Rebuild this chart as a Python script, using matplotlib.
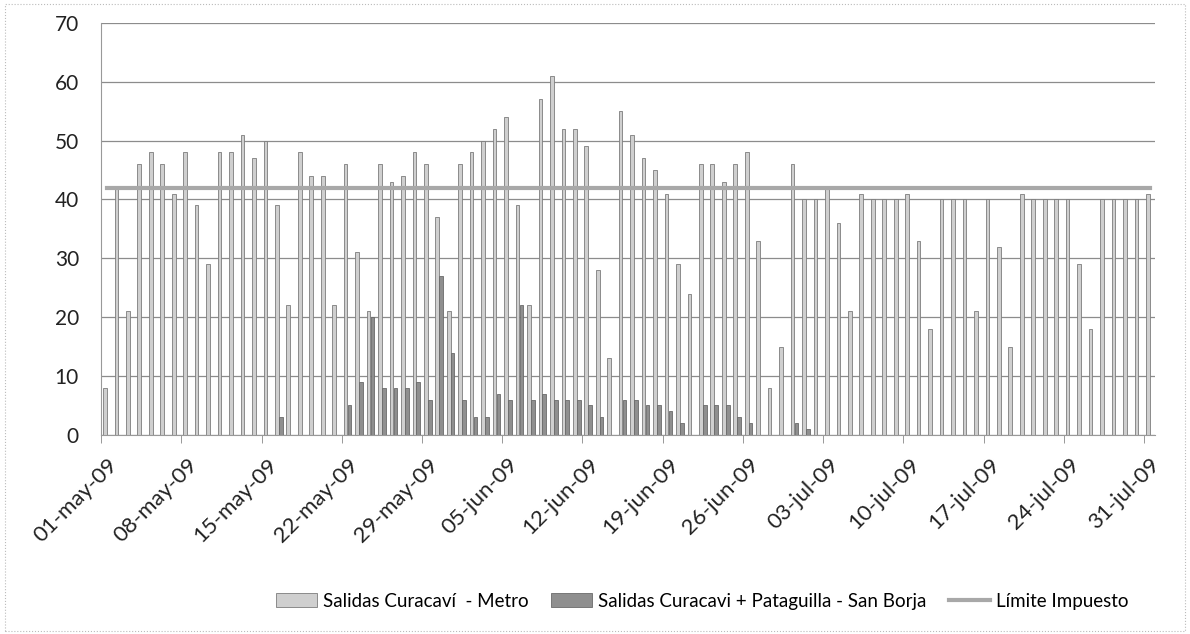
import numpy as np
import matplotlib
matplotlib.use("Agg")
import matplotlib.pyplot as plt
from matplotlib.patches import Patch, Rectangle
from matplotlib.lines import Line2D

plt.rcParams["font.family"] = ["Lato", "DejaVu Sans"]

# daily values, 01-may-09 .. 31-jul-09
metro = [
    8, 42, 21, 46, 48, 46, 41, 48, 39, 29, 48, 48, 51, 47, 50, 39, 22, 48, 44, 44,
    22, 46, 31, 21, 46, 43, 44, 48, 46, 37, 21, 46, 48, 50, 52, 54, 39, 22, 57, 61,
    52, 52, 49, 28, 13, 55, 51, 47, 45, 41, 29, 24, 46, 46, 43, 46, 48, 33, 8, 15,
    46, 40, 40, 42, 36, 21, 41, 40, 40, 40, 41, 33, 18, 40, 40, 40, 21, 40, 32, 15,
    41, 40, 40, 40, 40, 29, 18, 40, 40, 40, 40, 41,
]
san_borja = [
    0, 0, 0, 0, 0, 0, 0, 0, 0, 0, 0, 0, 0, 0, 0, 3, 0, 0, 0, 0,
    0, 5, 9, 20, 8, 8, 8, 9, 6, 27, 14, 6, 3, 3, 7, 6, 22, 6, 7, 6,
    6, 6, 5, 3, 0, 6, 6, 5, 5, 4, 2, 0, 5, 5, 5, 3, 2, 0, 0, 0,
    2, 1, 0, 0, 0, 0, 0, 0, 0, 0, 0, 0, 0, 0, 0, 0, 0, 0, 0, 0,
    0, 0, 0, 0, 0, 0, 0, 0, 0, 0, 0, 0,
]
limite = 42

tick_labels = ["01-may-09", "08-may-09", "15-may-09", "22-may-09", "29-may-09",
               "05-jun-09", "12-jun-09", "19-jun-09", "26-jun-09", "03-jul-09",
               "10-jul-09", "17-jul-09", "24-jul-09", "31-jul-09"]

series_names = ["Salidas Curacaví  - Metro",
                "Salidas Curacavi + Pataguilla - San Borja",
                "Límite Impuesto"]

n = len(metro)
x = np.arange(n)

fig = plt.figure(figsize=(11.9, 6.34), dpi=100)
ax = fig.add_axes([0.085, 0.314, 0.886, 0.65])

# outer chart border
fig.patches.append(Rectangle((0.004, 0.004), 0.992, 0.99, transform=fig.transFigure,
                             fill=False, edgecolor="#bbbbbb", lw=0.8, ls=":"))

ax.set_axisbelow(True)
ax.yaxis.grid(True, color="#8c8c8c", lw=0.9)

w = 0.32
ax.bar(x - 0.17, metro, width=w, color="#cfcfcf", edgecolor="#7c7c7c", lw=0.6)
ax.bar(x + 0.17, san_borja, width=w, color="#8f8f8f", edgecolor="#6a6a6a", lw=0.6)
ax.plot(x, np.full(n, limite), color="#a8a8a8", lw=3)

ax.set_xlim(-0.5, n - 0.5)
ax.set_ylim(0, 70)
ax.set_yticks(range(0, 71, 10))
ax.tick_params(axis="y", length=0, labelsize=15, pad=16, colors="#222222")

ax.set_xticks(x[::7])
ax.set_xticklabels(tick_labels, rotation=45, ha="right", rotation_mode="anchor",
                   fontsize=16, color="#222222")
ax.tick_params(axis="x", length=0, pad=14)
ax.set_xticks(np.arange(-0.5, n, 7), minor=True)
ax.tick_params(axis="x", which="minor", length=6, color="#888888")

for s in ["top", "right"]:
    ax.spines[s].set_visible(False)
ax.spines["left"].set_color("#999999")
ax.spines["bottom"].set_color("#999999")

handles = [
    Patch(facecolor="#cfcfcf", edgecolor="#7c7c7c", lw=0.6),
    Patch(facecolor="#8f8f8f", edgecolor="#6a6a6a", lw=0.6),
    Line2D([0], [0], color="#a8a8a8", lw=3),
]
fig.legend(handles, series_names, loc="center", bbox_to_anchor=(0.59, 0.052),
           ncol=3, frameon=False, fontsize=13.5, handlelength=2.2,
           handletextpad=0.3, columnspacing=1.2)

fig.savefig("out.png", dpi=100)
